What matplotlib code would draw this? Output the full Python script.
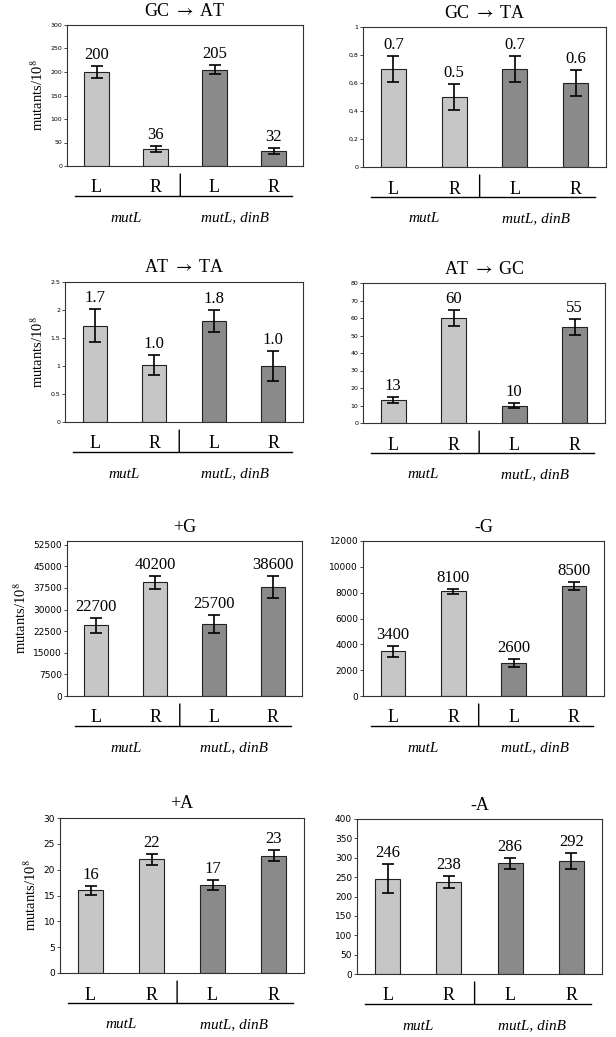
import matplotlib
matplotlib.use('Agg')
import matplotlib.pyplot as plt
import matplotlib.transforms as mtransforms

plt.rcParams['mathtext.fontset'] = 'stix'
SERIF = ['Liberation Serif', 'DejaVu Serif']

# ---- data ----
strains = ['L', 'R', 'L', 'R']
groups = ['mutL', 'mutL, dinB']

gc_at_vals = [200, 36, 205, 32]
gc_at_err = [13, 6, 9, 7]
gc_at_lbl = ['200', '36', '205', '32']

gc_ta_vals = [0.7, 0.5, 0.7, 0.6]
gc_ta_err = [0.095, 0.095, 0.095, 0.095]
gc_ta_lbl = ['0.7', '0.5', '0.7', '0.6']

at_ta_vals = [1.72, 1.02, 1.8, 1.0]
at_ta_err = [0.29, 0.18, 0.2, 0.27]
at_ta_lbl = ['1.7', '1.0', '1.8', '1.0']

at_gc_vals = [13, 60, 10, 55]
at_gc_err = [1.8, 4.5, 1.3, 4.5]
at_gc_lbl = ['13', '60', '10', '55']

plus_g_vals = [24500, 39500, 25000, 37700]
plus_g_err = [2500, 2300, 3000, 3800]
plus_g_lbl = ['22700', '40200', '25700', '38600']

minus_g_vals = [3450, 8100, 2550, 8500]
minus_g_err = [420, 220, 300, 330]
minus_g_lbl = ['3400', '8100', '2600', '8500']

plus_a_vals = [16, 22, 17, 22.7]
plus_a_err = [0.9, 1.0, 1.0, 1.1]
plus_a_lbl = ['16', '22', '17', '23']

minus_a_vals = [246, 238, 286, 292]
minus_a_err = [38, 16, 14, 21]
minus_a_lbl = ['246', '238', '286', '292']

panels = [
    ('GC $\\rightarrow$ AT', gc_at_vals, gc_at_err, gc_at_lbl, 300,
     [0, 50, 100, 150, 200, 250, 300], ['0', '50', '100', '150', '200', '250', '300']),
    ('GC $\\rightarrow$ TA', gc_ta_vals, gc_ta_err, gc_ta_lbl, 1,
     [0, 0.2, 0.4, 0.6, 0.8, 1], ['0', '0,2', '0,4', '0,6', '0,8', '1']),
    ('AT $\\rightarrow$ TA', at_ta_vals, at_ta_err, at_ta_lbl, 2.5,
     [0, 0.5, 1, 1.5, 2, 2.5], ['0', '0.5', '1', '1.5', '2', '2.5']),
    ('AT $\\rightarrow$ GC', at_gc_vals, at_gc_err, at_gc_lbl, 80,
     list(range(0, 81, 10)), [str(v) for v in range(0, 81, 10)]),
    ('+G', plus_g_vals, plus_g_err, plus_g_lbl, 53800,
     list(range(0, 52501, 7500)), [str(v) for v in range(0, 52501, 7500)]),
    ('-G', minus_g_vals, minus_g_err, minus_g_lbl, 12000,
     list(range(0, 12001, 2000)), [str(v) for v in range(0, 12001, 2000)]),
    ('+A', plus_a_vals, plus_a_err, plus_a_lbl, 30,
     list(range(0, 31, 5)), [str(v) for v in range(0, 31, 5)]),
    ('-A', minus_a_vals, minus_a_err, minus_a_lbl, 400,
     list(range(0, 401, 50)), [str(v) for v in range(0, 401, 50)]),
]

# axes boxes in pixels: left, top, right, bottom
boxes = [(67, 25, 303, 166), (363, 27, 606, 167),
         (65, 282, 303, 422), (363, 283, 605, 423),
         (67, 541, 302, 696), (363, 541, 604, 696),
         (60, 818, 304, 973), (357, 819, 602, 974)]

W, H = 616, 1037
fig = plt.figure(figsize=(W / 100, H / 100), dpi=100)
colors = ['#c6c6c6', '#c6c6c6', '#8a8a8a', '#8a8a8a']
xpos = [0, 1, 2, 3]

for i, (title, vals, errs, lbls, ymax, ticks, ticklbls) in enumerate(panels):
    l, t, r, b = boxes[i]
    ax = fig.add_axes([l / W, (H - b) / H, (r - l) / W, (b - t) / H])
    ax.bar(xpos, vals, width=0.41, color=colors, edgecolor='#222222', linewidth=0.8,
           yerr=errs, error_kw=dict(ecolor='black', elinewidth=1.2, capsize=4, capthick=1.2))
    ax.set_xlim(-0.5, 3.5)
    ax.set_ylim(0, ymax)
    ax.set_xticks([])
    ax.set_yticks(ticks)
    small = i < 4
    ax.set_yticklabels(ticklbls, fontsize=4.5 if small else 6.5, family='DejaVu Sans')
    ax.tick_params(axis='y', length=2, width=0.5, pad=1.5)
    for s in ax.spines.values():
        s.set_linewidth(0.8)
        s.set_color('#333333')

    # value labels above error bars
    for x, v, e, lab in zip(xpos, vals, errs, lbls):
        ax.annotate(lab, xy=(x, v + e), xytext=(0, 3), textcoords='offset pixels',
                    ha='center', va='bottom', fontsize=12, family=SERIF)

    # title
    ax.annotate(title, xy=(0.5, 1), xycoords='axes fraction', xytext=(0, 14),
                textcoords='offset pixels', ha='center', va='center', fontsize=13, family=SERIF)

    if i % 2 == 0:
        ax.set_ylabel('mutants/10$^8$', fontsize=10.5, family=SERIF, labelpad=3)

    # strain labels, separator and group names below the axes
    trans = mtransforms.blended_transform_factory(ax.transData, ax.transAxes)
    for x, s in zip(xpos, strains):
        ax.text(x, 0, s, fontsize=13, family=SERIF, ha='center', va='center', clip_on=False,
                transform=mtransforms.offset_copy(trans, fig, y=-22, units='dots'))
    line_tr = mtransforms.offset_copy(trans, fig, y=-30, units='dots')
    sep_tr = mtransforms.offset_copy(trans, fig, y=-8, units='dots')
    ax.plot([-0.37, 3.32], [0, 0], color='black', lw=1.0, transform=line_tr, clip_on=False)
    ax.annotate('', xy=(1.42, 0), xycoords=line_tr, xytext=(1.42, 0), textcoords=sep_tr,
                arrowprops=dict(arrowstyle='-', color='black', lw=1.0, shrinkA=0, shrinkB=0),
                annotation_clip=False)
    ax.text(0.5, 0, groups[0], fontsize=11, family=SERIF, style='italic', ha='center',
            va='center', clip_on=False,
            transform=mtransforms.offset_copy(trans, fig, y=-52, units='dots'))
    ax.text(2.35, 0, groups[1], fontsize=11, family=SERIF, style='italic', ha='center',
            va='center', clip_on=False,
            transform=mtransforms.offset_copy(trans, fig, y=-52, units='dots'))

fig.savefig('out.png', dpi=100)
